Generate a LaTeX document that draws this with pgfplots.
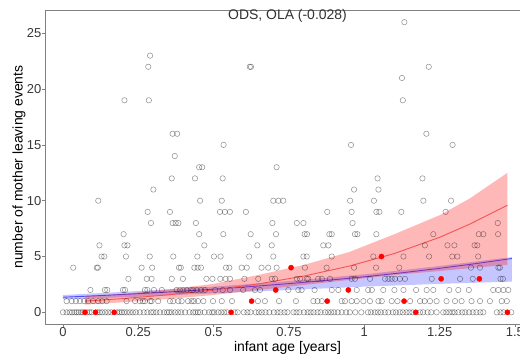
\documentclass[border=0pt]{standalone}
\usepackage{pgfplots}
\pgfplotsset{compat=1.18}
\usepackage{fontspec}
\setmainfont{Liberation Sans}

\definecolor{framegray}{gray}{0.5}
\definecolor{ticktext}{gray}{0.22}
\definecolor{fitred}{rgb}{0.97,0.32,0.32}
\definecolor{fitblue}{rgb}{0.30,0.30,1.0}

\begin{document}
\begin{tikzpicture}
\begin{axis}[
  scale only axis, width=485bp, height=314bp,
  xmin=-0.0597, xmax=1.550, ymin=-1.048, ymax=27.09,
  axis line style={framegray, line width=0.7bp},
  tick pos=left, tick align=outside, major tick length=2.5bp,
  tick style={framegray, line width=0.6bp},
  xtick={0,0.25,0.5,0.75,1,1.25,1.5},
  xticklabels={0,0.25,0.5,0.75,1,1.25,1.5},
  ytick={0,5,10,15,20,25},
  yticklabels={0,5,10,15,20,25},
  ticklabel style={font=\fontsize{13}{15}\selectfont, text=ticktext},
  xticklabel style={inner sep=1bp},
  yticklabel style={inner sep=1bp},
  xlabel={infant age [years]},
  ylabel={number of mother leaving events},
  every axis x label/.style={at={(axis description cs:0.5,0)}, anchor=center, yshift=-24bp, font=\fontsize{14}{16}\selectfont},
  every axis y label/.style={at={(axis description cs:0,0.5)}, anchor=center, xshift=-26bp, rotate=90, font=\fontsize{14}{16}\selectfont},
  title={ODS, OLA (-0.028)},
  title style={at={(axis description cs:0.5,1)}, anchor=center, yshift=-12bp, font=\fontsize{14}{16}\selectfont, text=black!80},
]

% all observations (open circles)
\addplot[only marks, mark=o, mark size=2.7bp,
  mark options={draw=black, draw opacity=0.42, line width=0.55bp}] coordinates {
(0.000,0) (0.012,0) (0.022,0) (0.030,0) (0.038,0) (0.045,0) (0.052,0) (0.060,0) (0.066,0) (0.080,0)
(0.088,0) (0.095,0) (0.115,0) (0.122,0) (0.130,0) (0.140,0) (0.150,0) (0.160,0) (0.180,0) (0.188,0)
(0.195,0) (0.203,0) (0.212,0) (0.222,0) (0.232,0) (0.242,0) (0.255,0) (0.268,0) (0.280,0) (0.292,0)
(0.300,0) (0.310,0) (0.322,0) (0.335,0) (0.345,0) (0.352,0) (0.360,0) (0.372,0) (0.382,0) (0.392,0)
(0.405,0) (0.420,0) (0.432,0) (0.440,0) (0.448,0) (0.455,0) (0.470,0) (0.485,0) (0.495,0) (0.502,0)
(0.515,0) (0.525,0) (0.535,0) (0.545,0) (0.570,0) (0.580,0) (0.600,0) (0.612,0) (0.622,0) (0.640,0)
(0.650,0) (0.660,0) (0.672,0) (0.685,0) (0.700,0) (0.712,0) (0.722,0) (0.735,0) (0.745,0) (0.765,0)
(0.775,0) (0.785,0) (0.800,0) (0.812,0) (0.822,0) (0.832,0) (0.845,0) (0.855,0) (0.870,0) (0.880,0)
(0.890,0) (0.900,0) (0.912,0) (0.925,0) (0.940,0) (0.952,0) (0.970,0) (0.990,0) (1.012,0) (1.022,0)
(1.035,0) (1.045,0) (1.055,0) (1.068,0) (1.080,0) (1.095,0) (1.105,0) (1.118,0) (1.128,0) (1.140,0)
(1.150,0) (1.160,0) (1.185,0) (1.195,0) (1.210,0) (1.222,0) (1.240,0) (1.262,0) (1.272,0) (1.282,0)
(1.292,0) (1.300,0) (1.312,0) (1.325,0) (1.335,0) (1.348,0) (1.360,0) (1.372,0) (1.385,0) (1.395,0)
(1.440,0) (1.452,0) (1.462,0) (1.488,0)
(0.012,1) (0.029,1) (0.043,1) (0.056,1) (0.070,1) (0.084,1) (0.100,1) (0.117,1) (0.130,1) (0.145,1)
(0.211,1) (0.239,1) (0.255,1) (0.265,1) (0.272,1) (0.289,1) (0.294,1) (0.316,1) (0.355,1) (0.366,1)
(0.383,1) (0.394,1) (0.415,1) (0.427,1) (0.435,1) (0.448,1) (0.466,1) (0.498,1) (0.527,1) (0.561,1)
(0.647,1) (0.670,1) (0.717,1) (0.773,1) (0.831,1) (0.845,1) (0.859,1) (0.925,1) (0.936,1) (0.958,1)
(0.975,1) (0.997,1) (1.019,1) (1.047,1) (1.058,1) (1.091,1) (1.110,1) (1.152,1) (1.185,1) (1.200,1)
(1.218,1) (1.240,1) (1.273,1) (1.301,1) (1.323,1) (1.356,1) (1.384,1) (1.417,1) (1.456,1) (1.473,1)
(0.091,2) (0.139,2) (0.147,2) (0.199,2) (0.206,2) (0.272,2) (0.280,2) (0.302,2) (0.328,2) (0.377,2)
(0.388,2) (0.399,2) (0.411,2) (0.424,2) (0.432,2) (0.444,2) (0.458,2) (0.471,2) (0.505,2) (0.530,2)
(0.554,2) (0.598,2) (0.637,2) (0.654,2) (0.748,2) (0.781,2) (0.792,2) (0.835,2) (0.892,2) (0.914,2)
(0.975,2) (1.013,2) (1.025,2) (1.063,2) (1.100,2) (1.130,2) (1.172,2) (1.207,2) (1.229,2) (1.282,2)
(1.312,2) (1.347,2) (1.428,2) (1.445,2) (1.462,2) (1.478,2)
(0.217,3) (0.278,3) (0.294,3) (0.361,3) (0.398,3) (0.476,3) (0.496,3) (0.522,3) (0.540,3) (0.554,3)
(0.602,3) (0.648,3) (0.693,3) (0.704,3) (0.776,3) (0.787,3) (0.809,3) (0.814,3) (0.847,3) (0.859,3)
(0.886,3) (0.958,3) (0.969,3) (1.019,3) (1.069,3) (1.080,3) (1.091,3) (1.102,3) (1.118,3) (1.135,3)
(1.224,3) (1.318,3) (1.360,3) (1.452,3) (1.460,3)
(0.034,4) (0.112,4) (0.116,4) (0.261,4) (0.296,4) (0.385,4) (0.391,4) (0.436,4) (0.447,4) (0.458,4)
(0.541,4) (0.552,4) (0.593,4) (0.610,4) (0.659,4) (0.681,4) (0.709,4) (0.803,4) (0.875,4) (0.966,4)
(1.039,4) (1.116,4) (1.354,4) (1.384,4) (1.445,4) (1.450,4)
(0.128,5) (0.137,5) (0.209,5) (0.288,5) (0.366,5) (0.446,5) (0.501,5) (0.523,5) (0.618,5) (0.698,5)
(0.798,5) (0.809,5) (0.892,5) (1.030,5) (1.130,5) (1.215,5) (1.292,5) (1.309,5) (1.378,5)
(0.121,6) (0.204,6) (0.214,6) (0.469,6) (0.645,6) (0.693,6) (0.864,6) (0.881,6) (1.201,6) (1.276,6)
(1.299,6) (1.366,6) (1.375,6)
(0.201,7) (0.452,7) (0.532,7) (0.623,7) (0.707,7) (0.802,7) (0.810,7) (0.884,7) (0.892,7) (0.969,7)
(0.977,7) (1.040,7) (1.229,7) (1.380,7) (1.395,7) (1.444,7)
(0.292,8) (0.364,8) (0.374,8) (0.383,8) (0.441,8) (0.695,8) (0.776,8) (0.798,8) (0.961,8) (1.443,8)
(0.281,9) (0.355,9) (0.521,9) (0.537,9) (0.554,9) (0.607,9) (0.877,9) (0.958,9) (1.040,9) (1.050,9)
(1.123,9) (1.270,9)
(0.117,10) (0.455,10) (0.527,10) (0.698,10) (0.715,10) (0.731,10) (0.953,10) (1.032,10) (1.196,10) (1.288,10)
(0.300,11) (0.966,11) (1.047,11)
(0.361,12) (0.438,12) (0.530,12) (1.044,12) (1.193,12)
(0.452,13) (0.462,13) (0.709,13)
(0.371,14)
(0.533,15) (0.956,15) (1.293,15)
(0.364,16) (0.379,16) (1.206,16)
(0.204,19) (0.285,19) (1.128,19)
(1.125,21)
(0.283,22) (0.620,22) (0.624,22) (1.214,22)
(0.289,23)
(1.133,26)
};

% confidence band of the second fit
\addplot[draw=none, fill=fitblue, fill opacity=0.32] coordinates {
(0.00,1.55) (0.25,1.90) (0.50,2.30) (0.75,2.80) (1.00,3.40) (1.25,4.15) (1.49,4.95)
(1.49,2.75) (1.25,2.55) (1.00,2.30) (0.75,2.00) (0.50,1.70) (0.25,1.40) (0.00,1.15)
} -- cycle;
% second fit
\addplot[fitblue, line width=0.9bp] coordinates {
(0.000,1.35) (0.125,1.50) (0.250,1.67) (0.375,1.86) (0.500,2.07) (0.625,2.31) (0.750,2.57)
(0.875,2.86) (1.000,3.18) (1.125,3.54) (1.250,3.94) (1.375,4.38) (1.490,4.82)
};

% confidence band of the first fit
\addplot[draw=none, fill=red, fill opacity=0.28] coordinates {
(0.073,1.45) (0.200,1.65) (0.350,2.05) (0.500,2.55) (0.650,3.35) (0.800,4.25) (0.950,5.40)
(1.100,7.00) (1.250,8.70) (1.350,10.20) (1.475,12.50)
(1.475,4.25) (1.350,3.95) (1.250,3.70) (1.100,3.35) (0.950,2.90) (0.800,2.45) (0.650,2.00)
(0.500,1.55) (0.350,1.20) (0.200,0.90) (0.073,0.69)
} -- cycle;
% first fit
\addplot[fitred, line width=0.9bp] coordinates {
(0.073,1.00) (0.200,1.23) (0.350,1.57) (0.500,2.00) (0.650,2.55) (0.800,3.25) (0.950,4.14)
(1.100,5.27) (1.250,6.72) (1.350,7.90) (1.475,9.60)
};

% highlighted observations
\addplot[only marks, mark=*, mark size=2.6bp, mark options={fill=red, draw=red}] coordinates {
(0.073,0) (0.108,0) (0.170,0) (0.558,0) (0.626,1) (0.706,2) (0.757,4) (0.877,1)
(0.947,2) (1.057,5) (1.132,1) (1.171,0) (1.255,3) (1.382,3) (1.475,0)
};
\end{axis}
\pgfresetboundingbox
\path[use as bounding box] (-45bp,-31bp) rectangle (475bp,324bp);
\end{tikzpicture}
\end{document}
